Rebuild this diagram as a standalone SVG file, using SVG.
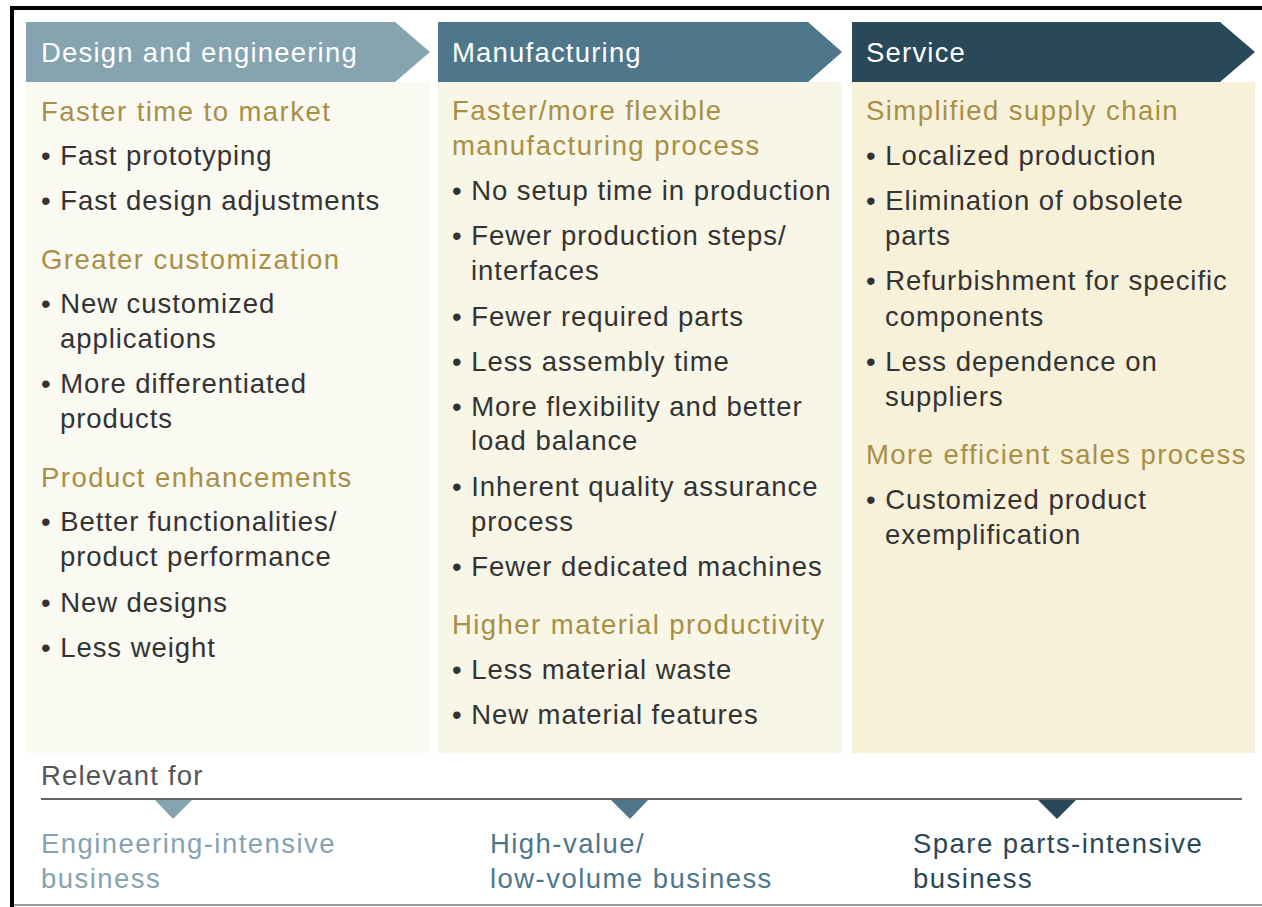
<svg xmlns="http://www.w3.org/2000/svg" width="1262" height="907" viewBox="0 0 1262 907">
<style>
text{font-family:"Liberation Sans",Arial,Helvetica,sans-serif;font-size:27.5px;letter-spacing:1.2px}
.hd{fill:#ffffff}
.h{fill:#A88F45;letter-spacing:1.45px}
.b{fill:#333333;letter-spacing:0.95px}
.rel{fill:#555555}
.bl{letter-spacing:1.45px}
</style>
<rect x="0" y="0" width="1262" height="907" fill="#ffffff"/>
<rect x="10" y="6" width="1252" height="4" fill="#000"/>
<rect x="10" y="6" width="4" height="901" fill="#000"/>
<rect x="14" y="904" width="1248" height="2" fill="#999"/>

<g id="design">
<rect x="26" y="82" width="404" height="671" fill="#FAF9F2"/>
<polygon points="26,22 395,22 430,52 395,82 26,82" fill="#86A3B0"/>
<text class="hd" x="41" y="62">Design and engineering</text>
<text class="h" x="41" y="121">Faster time to market</text>
<text class="b" x="41" y="165">• Fast prototyping</text>
<text class="b" x="41" y="210">• Fast design adjustments</text>
<text class="h" x="41" y="269">Greater customization</text>
<text class="b" x="41" y="313">• New customized</text>
<text class="b" x="60" y="348">applications</text>
<text class="b" x="41" y="393">• More differentiated</text>
<text class="b" x="60" y="428">products</text>
<text class="h" x="41" y="487">Product enhancements</text>
<text class="b" x="41" y="531">• Better functionalities/</text>
<text class="b" x="60" y="566">product performance</text>
<text class="b" x="41" y="612">• New designs</text>
<text class="b" x="41" y="657">• Less weight</text>
</g>

<g id="manufacturing">
<rect x="438" y="82" width="404" height="671" fill="#F8F6E7"/>
<polygon points="438,22 808,22 842,52 808,82 438,82" fill="#4E778C"/>
<text class="hd" x="452" y="62">Manufacturing</text>
<text class="h" x="452" y="120">Faster/more flexible</text>
<text class="h" x="452" y="155">manufacturing process</text>
<text class="b" x="452" y="200">• No setup time in production</text>
<text class="b" x="452" y="245">• Fewer production steps/</text>
<text class="b" x="471" y="280">interfaces</text>
<text class="b" x="452" y="326">• Fewer required parts</text>
<text class="b" x="452" y="371">• Less assembly time</text>
<text class="b" x="452" y="416">• More flexibility and better</text>
<text class="b" x="471" y="450">load balance</text>
<text class="b" x="452" y="496">• Inherent quality assurance</text>
<text class="b" x="471" y="531">process</text>
<text class="b" x="452" y="576">• Fewer dedicated machines</text>
<text class="h" x="452" y="634">Higher material productivity</text>
<text class="b" x="452" y="679">• Less material waste</text>
<text class="b" x="452" y="724">• New material features</text>
</g>

<g id="service">
<rect x="852" y="82" width="403" height="671" fill="#F8F1DA"/>
<polygon points="852,22 1220,22 1255,52 1220,82 852,82" fill="#294858"/>
<text class="hd" x="866" y="62">Service</text>
<text class="h" x="866" y="120">Simplified supply chain</text>
<text class="b" x="866" y="165">• Localized production</text>
<text class="b" x="866" y="210">• Elimination of obsolete</text>
<text class="b" x="885" y="245">parts</text>
<text class="b" x="866" y="290">• Refurbishment for specific</text>
<text class="b" x="885" y="326">components</text>
<text class="b" x="866" y="371">• Less dependence on</text>
<text class="b" x="885" y="406">suppliers</text>
<text class="h" x="866" y="464">More efficient sales process</text>
<text class="b" x="866" y="509">• Customized product</text>
<text class="b" x="885" y="544">exemplification</text>
</g>

<g id="relevant">
<text class="rel" x="41" y="785">Relevant for</text>
<rect x="41" y="798" width="1201" height="2" fill="#666"/>
</g>

<g id="connectors">
<polygon points="155,800 192,800 173,819" fill="#86A3B0"/>
<polygon points="611,800 648,800 630,819" fill="#4E778C"/>
<polygon points="1038,800 1076,800 1057,819" fill="#294858"/>
</g>

<g id="engineering-business">
<text class="bl" x="41" y="853" fill="#86A3B0">Engineering-intensive</text>
<text class="bl" x="41" y="888" fill="#86A3B0">business</text>
</g>
<g id="highvalue-business">
<text class="bl" x="490" y="853" fill="#4E778C">High-value/</text>
<text class="bl" x="490" y="888" fill="#4E778C">low-volume business</text>
</g>
<g id="spareparts-business">
<text class="bl" x="913" y="853" fill="#294858">Spare parts-intensive</text>
<text class="bl" x="913" y="888" fill="#294858">business</text>
</g>
</svg>
